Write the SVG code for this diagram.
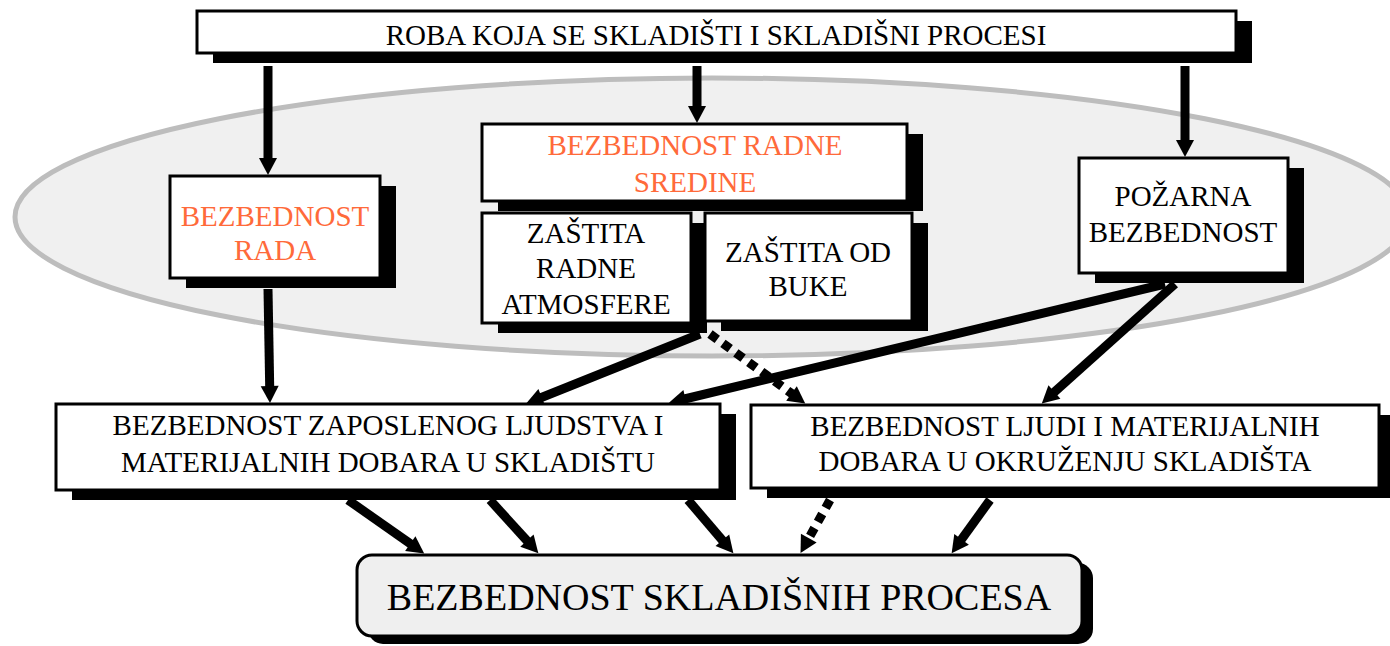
<svg xmlns="http://www.w3.org/2000/svg" width="1390" height="646" viewBox="0 0 1390 646">
  <defs>
    <marker id="head" markerUnits="userSpaceOnUse" markerWidth="20" markerHeight="20" viewBox="0 -10 18 20" refX="1" refY="0" orient="auto">
      <path d="M0,-9 L17,0 L0,9 z" fill="#000"/>
    </marker>
    <style>
      .shadow { fill: #000; }
      .box { fill: #fff; stroke: #000; stroke-width: 3; }
      .final { fill: #efefef; stroke: #000; stroke-width: 3; }
      .txt { font-family: "Liberation Serif", "Times New Roman", serif; font-size: 29px; fill: #000; text-anchor: middle; }
      .hl { fill: #ff6a3a; }
      .big { font-size: 38px; }
      .link { fill: none; stroke: #000; stroke-width: 9; marker-end: url(#head); }
      .dot { stroke-dasharray: 9 7; }
    </style>
  </defs>

  <rect width="1390" height="646" fill="#fff"/>

  <!-- grouping ellipse behind the three safety areas -->
  <ellipse cx="712" cy="217" rx="697" ry="139" fill="#f0f0f0" stroke="#bdbdbd" stroke-width="5"/>

  <g id="connectors">
    <line class="link" x1="268" y1="66" x2="268" y2="159"/>
    <line class="link" x1="697" y1="66" x2="697" y2="107"/>
    <line class="link" x1="1185" y1="66" x2="1185" y2="141"/>
    <line class="link" x1="268" y1="289" x2="269.7" y2="387"/>
    <line class="link" x1="700" y1="334" x2="540.8" y2="397.7"/>
    <line class="link dot" x1="710" y1="334" x2="792.3" y2="394"/>
    <line class="link" x1="1165" y1="284" x2="684.5" y2="399"/>
    <line class="link" x1="1175" y1="284" x2="1053.7" y2="392.7"/>
    <line class="link" x1="348" y1="500" x2="411.1" y2="544.2"/>
    <line class="link" x1="490" y1="500" x2="527.6" y2="541.4"/>
    <line class="link" x1="688" y1="500" x2="723" y2="541"/>
    <line class="link dot" x1="830" y1="500" x2="808.3" y2="539.1"/>
    <line class="link" x1="990" y1="500" x2="961" y2="540.2"/>
  </g>

  <g id="roba">
    <rect class="shadow" x="213" y="21" width="1039" height="42"/>
    <rect class="box" x="197" y="11" width="1039" height="42"/>
    <text class="txt" x="716" y="45">ROBA KOJA SE SKLADIŠTI I SKLADIŠNI PROCESI</text>
  </g>

  <g id="bezbednost-rada">
    <rect class="shadow" x="186" y="186" width="210" height="102"/>
    <rect class="box" x="170" y="176" width="210" height="102"/>
    <text class="txt hl" x="275" y="226">BEZBEDNOST</text>
    <text class="txt hl" x="275" y="260">RADA</text>
  </g>

  <g id="radna-sredina">
    <rect class="shadow" x="498" y="134" width="425" height="77"/>
    <rect class="box" x="482" y="124" width="425" height="77"/>
    <text class="txt hl" x="695" y="155">BEZBEDNOST RADNE</text>
    <text class="txt hl" x="695" y="192">SREDINE</text>
  </g>

  <g id="zastita-atmosfere">
    <rect class="shadow" x="498" y="223" width="209" height="110"/>
    <rect class="box" x="482" y="213" width="209" height="110"/>
    <text class="txt" x="586" y="243">ZAŠTITA</text>
    <text class="txt" x="586" y="278">RADNE</text>
    <text class="txt" x="586" y="314">ATMOSFERE</text>
  </g>

  <g id="zastita-buke">
    <rect class="shadow" x="721" y="223" width="207" height="108"/>
    <rect class="box" x="705" y="213" width="207" height="108"/>
    <text class="txt" x="808" y="262">ZAŠTITA OD</text>
    <text class="txt" x="808" y="296">BUKE</text>
  </g>

  <g id="pozarna">
    <rect class="shadow" x="1095" y="168" width="209" height="115"/>
    <rect class="box" x="1079" y="158" width="209" height="115"/>
    <text class="txt" x="1183" y="206">POŽARNA</text>
    <text class="txt" x="1183" y="242">BEZBEDNOST</text>
  </g>

  <g id="skladiste">
    <rect class="shadow" x="72" y="414" width="664" height="86"/>
    <rect class="box" x="56" y="404" width="664" height="86"/>
    <text class="txt" x="388" y="435">BEZBEDNOST ZAPOSLENOG LJUDSTVA I</text>
    <text class="txt" x="388" y="472">MATERIJALNIH DOBARA U SKLADIŠTU</text>
  </g>

  <g id="okruzenje">
    <rect class="shadow" x="767" y="415" width="628" height="83"/>
    <rect class="box" x="751" y="405" width="628" height="83"/>
    <text class="txt" x="1065" y="436">BEZBEDNOST LJUDI I MATERIJALNIH</text>
    <text class="txt" x="1065" y="471">DOBARA U OKRUŽENJU SKLADIŠTA</text>
  </g>

  <g id="skladisni-procesi">
    <rect class="shadow" x="368" y="563" width="725" height="81" rx="15"/>
    <rect class="final" x="357" y="555" width="725" height="81" rx="15"/>
    <text class="txt big" x="719" y="610">BEZBEDNOST SKLADIŠNIH PROCESA</text>
  </g>
</svg>
